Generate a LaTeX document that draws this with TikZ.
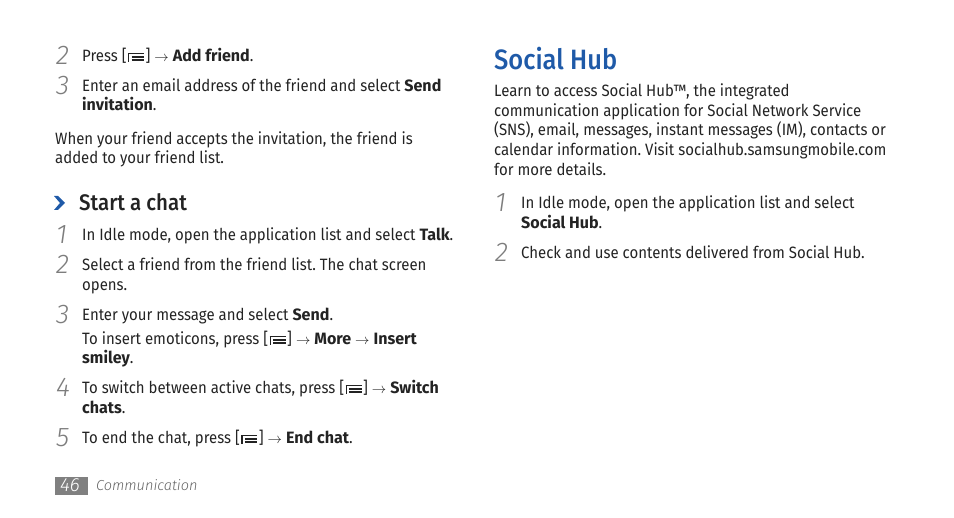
\documentclass[tikz,border=0pt]{standalone}
\usepackage{fontspec}
\setmainfont{Fira Sans}[FakeStretch=0.912,BoldFeatures={FakeStretch=0.98}]
\newfontfamily\numfont{Fira Sans Light}
\newfontfamily\headfont{Fira Sans Medium}[FakeStretch=0.91]
\usetikzlibrary{positioning}
\definecolor{hubblue}{RGB}{31,90,168}
\definecolor{bodygray}{RGB}{35,35,35}
\definecolor{numgray}{RGB}{125,125,125}
\definecolor{footgray}{RGB}{128,128,128}
\newcommand{\menukey}{[\kern1.5pt\raisebox{0.2pt}{\rlap{\rule{1.3pt}{9pt}}\rlap{\raisebox{7.8pt}{\rule{16pt}{1.3pt}}}\kern3.5pt\rlap{\raisebox{4pt}{\rule{12.5pt}{1.3pt}}}\rlap{\raisebox{1pt}{\rule{12.5pt}{1.3pt}}}\kern12.5pt}\kern1.5pt]}
\newcommand{\toarrow}{{\fontsize{14.4}{14}\selectfont$\rightarrow$}}
\tikzset{
  line/.style={anchor=base west,inner sep=0pt,text=bodygray,font=\fontsize{16.4}{18}\selectfont\frenchspacing},
  stepnum/.style={anchor=base west,inner sep=0pt,text=numgray,font=\fontsize{27}{28}\numfont\itshape},
  heading/.style={anchor=base west,inner sep=0pt,text=bodygray,font=\fontsize{22.5}{26}\headfont},
}
\begin{document}
\begin{tikzpicture}[x=1pt,y=-1pt]
  \useasboundingbox (0,0) rectangle (954,518);
  %STEP NUMBERS LEFT
  \foreach \n/\x/\y in {2/56/65,3/56/95,1/56/244,2/56/274,3/56/324,4/56/397,5/56/447}{
    \node[stepnum] (num\n-\y) at (\x,\y) {\n};
  }
  %STEP NUMBERS RIGHT
  \foreach \n/\x/\y in {1/495/212,2/495/262}{
    \node[stepnum] (num\n-\y) at (\x,\y) {\n};
  }
  %LEFT COLUMN TOP
  \node[line] (press) at (82,62) {Press \menukey{} \toarrow{} \textbf{Add friend}.};
  \node[line] (enter) at (82,92) {Enter an email address of the friend and select \textbf{Send}};
  \node[line] (invitation) at (82,111) {\textbf{invitation}.};
  \node[line] (accepts) at (55,145) {When your friend accepts the invitation, the friend is};
  \node[line] (added) at (55,164) {added to your friend list.};
  %HEADING CHAT
  \fill[hubblue] (54,196) -- (58,196) -- (65,203) -- (58,210) -- (54,210) -- (60,203) -- cycle;
  \node[heading] (chat) at (79,211) {Start a chat};
  %CHAT STEPS
  \node[line] (idle) at (82,241) {In Idle mode, open the application list and select \textbf{Talk}.};
  \node[line] (select) at (82,271) {Select a friend from the friend list. The chat screen};
  \node[line] (opens) at (82,291) {opens.};
  \node[line] (message) at (82,321) {Enter your message and select \textbf{Send}.};
  \node[line] (insert) at (82,345) {To insert emoticons, press \menukey{} \toarrow{} \textbf{More} \toarrow{} \textbf{Insert}};
  \node[line] (smiley) at (82,364) {\textbf{smiley}.};
  \node[line] (switch) at (82,394) {To switch between active chats, press \menukey{} \toarrow{} \textbf{Switch}};
  \node[line] (chats) at (82,414) {\textbf{chats}.};
  \node[line] (endchat) at (82,444) {To end the chat, press \menukey{} \toarrow{} \textbf{End chat}.};
  %FOOTER
  \fill[footgray] (55,477) rectangle (88,495);
  \node[anchor=base,inner sep=0pt,text=white,font=\fontsize{19}{20}\numfont\itshape] (page) at (70,492) {46};
  \node[anchor=base west,inner sep=0pt,text=numgray!80!black,font=\fontsize{14.5}{18}\numfont\itshape] (comm) at (96,491) {Communication};
  %RIGHT COLUMN
  \node[anchor=base west,inner sep=0pt,text=hubblue,font=\fontsize{28}{32}\headfont] (hub) at (494,70) {Social Hub};
  \node[line] (learn) at (494,97) {Learn to access Social Hub™, the integrated};
  \node[line] (comapp) at (494,117) {communication application for Social Network Service};
  \node[line] (sns) at (494,136) {(SNS), email, messages, instant messages (IM), contacts or};
  \node[line] (calendar) at (494,156) {calendar information. Visit socialhub.samsungmobile.com};
  \node[line] (details) at (494,176) {for more details.};
  \node[line] (idletwo) at (521,209) {In Idle mode, open the application list and select};
  \node[line] (hubbold) at (521,229) {\textbf{Social Hub}.};
  \node[line] (check) at (521,259) {Check and use contents delivered from Social Hub.};
\end{tikzpicture}
\end{document}
